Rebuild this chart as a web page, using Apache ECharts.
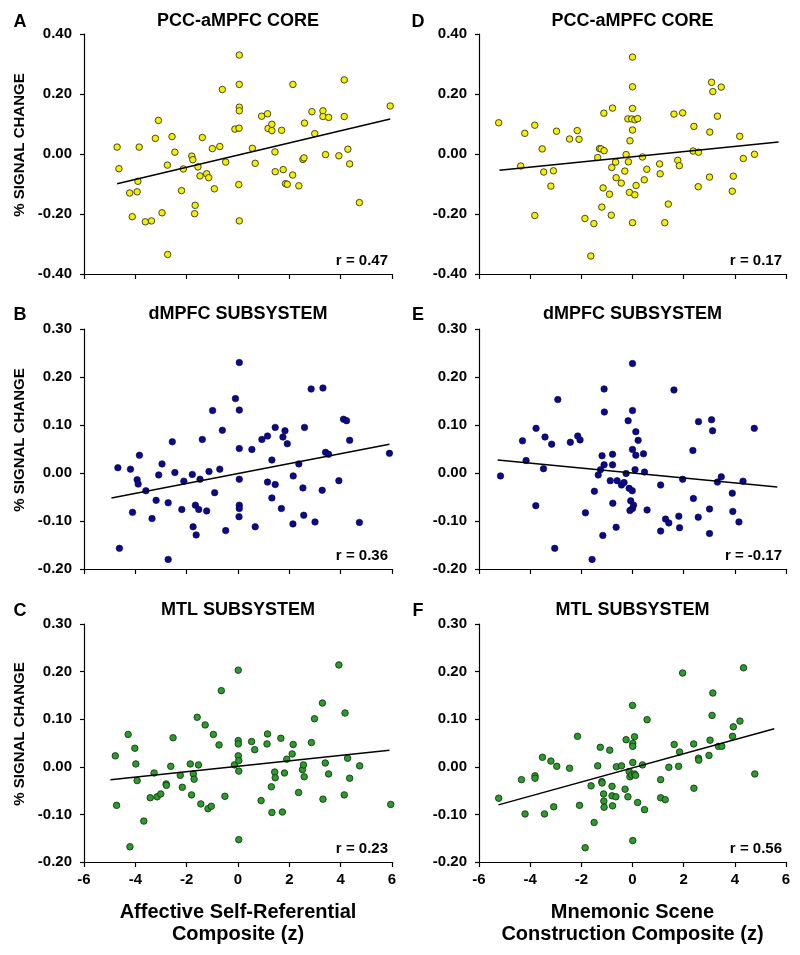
<!DOCTYPE html>
<html>
<head>
<meta charset="utf-8">
<script src="https://cdn.jsdelivr.net/npm/echarts@6/dist/echarts.min.js"></script>
<style>html,body{margin:0;padding:0;background:#fff}#c{width:800px;height:955px}</style>
</head>
<body>
<div id="c"></div>
<script>
// ---- Data ----
const panelLetters = ['A','B','C','D','E','F'];
const panelTitles = ['PCC-aMPFC CORE','dMPFC SUBSYSTEM','MTL SUBSYSTEM','PCC-aMPFC CORE','dMPFC SUBSYSTEM','MTL SUBSYSTEM'];
const rLabels = ['r = 0.47','r = 0.36','r = 0.23','r = 0.17','r = -0.17','r = 0.56'];
const xTicks = [-6,-4,-2,0,2,4,6];
const yTicksCore = [-0.40,-0.20,0.00,0.20,0.40];
const yTicksSub = [-0.20,-0.10,0.00,0.10,0.20,0.30];
const yAxisTitle = '% SIGNAL CHANGE';
const xAxisTitleLeft = ['Affective Self-Referential','Composite (z)'];
const xAxisTitleRight = ['Mnemonic Scene','Construction Composite (z)'];

const ptsA = [[-4.71,0.023],[-4.64,-0.049],[-4.22,-0.13],[-4.12,-0.209],[-3.93,-0.126],[-3.90,-0.091],[-3.85,0.023],[-3.61,-0.226],[-3.37,-0.223],[-3.22,0.052],[-3.10,0.112],[-2.96,-0.196],[-2.75,-0.037],[-2.74,-0.335],[-2.57,0.058],[-2.46,0.006],[-2.20,-0.122],[-2.13,-0.050],[-1.80,-0.007],[-1.76,-0.019],[-1.67,-0.171],[-1.69,-0.199],[-1.56,-0.043],[-1.48,-0.073],[-1.39,0.055],[-1.22,-0.066],[-1.14,-0.079],[-1.00,0.018],[-0.92,-0.116],[-0.71,0.025],[-0.61,0.215],[-0.48,-0.027],[-0.12,0.083],[0.04,0.086],[0.03,-0.102],[0.05,-0.223],[0.05,0.330],[0.05,0.232],[0.05,0.156],[0.05,0.144],[0.56,0.019],[0.67,-0.031],[0.92,0.126],[1.15,0.134],[1.17,0.085],[1.32,0.099],[1.32,0.078],[1.44,0.007],[1.45,-0.059],[1.70,0.079],[1.76,-0.052],[1.85,-0.099],[1.92,-0.101],[2.14,0.232],[2.13,-0.070],[2.37,-0.106],[2.53,-0.018],[2.57,-0.013],[2.59,0.103],[2.88,0.141],[2.99,0.068],[3.31,0.144],[3.31,0.125],[3.41,-0.002],[3.53,0.122],[3.93,-0.006],[4.14,0.247],[4.14,0.125],[4.28,0.016],[4.35,-0.033],[4.73,-0.162],[5.93,0.160]];
const ptsB = [[-4.68,0.011],[-4.62,-0.157],[-4.19,0.008],[-4.11,-0.082],[-3.93,-0.014],[-3.89,-0.023],[-3.84,0.037],[-3.59,-0.037],[-3.35,-0.095],[-3.19,-0.057],[-3.09,-0.004],[-2.96,0.019],[-2.72,-0.062],[-2.72,-0.180],[-2.56,0.065],[-2.46,0.001],[-2.19,-0.076],[-2.11,-0.017],[-1.78,-0.003],[-1.75,-0.112],[-1.66,-0.067],[-1.63,-0.129],[-1.53,-0.076],[-1.48,-0.013],[-1.39,0.070],[-1.22,-0.079],[-1.13,0.003],[-0.99,0.130],[-0.91,-0.041],[-0.71,0.008],[-0.61,0.089],[-0.48,-0.120],[-0.10,0.155],[0.04,-0.091],[0.05,0.230],[0.05,0.131],[0.05,0.051],[0.05,-0.013],[0.05,-0.067],[0.05,-0.074],[0.54,0.049],[0.67,-0.112],[0.93,0.070],[1.15,0.077],[1.15,-0.019],[1.32,0.027],[1.32,-0.052],[1.45,0.095],[1.45,-0.024],[1.69,-0.074],[1.75,0.075],[1.83,0.088],[1.92,0.061],[2.14,-0.106],[2.15,-0.006],[2.37,0.019],[2.53,-0.031],[2.56,-0.088],[2.59,0.095],[2.85,0.175],[3.00,-0.102],[3.28,-0.036],[3.31,0.177],[3.41,0.043],[3.53,0.039],[3.93,-0.016],[4.11,0.112],[4.23,0.109],[4.35,0.068],[4.73,-0.103],[5.90,0.041]];
const ptsC = [[-4.78,0.023],[-4.73,-0.081],[-4.28,0.068],[-4.21,-0.168],[-4.02,0.039],[-3.98,0.006],[-3.93,-0.029],[-3.67,-0.114],[-3.42,-0.065],[-3.27,-0.013],[-3.15,-0.063],[-3.01,-0.057],[-2.80,-0.036],[-2.79,-0.039],[-2.62,0.001],[-2.53,0.061],[-2.25,-0.018],[-2.17,-0.043],[-1.86,0.006],[-1.81,-0.059],[-1.74,-0.015],[-1.71,-0.026],[-1.59,0.104],[-1.54,0.004],[-1.45,-0.078],[-1.28,0.088],[-1.17,-0.088],[-1.04,-0.083],[-0.96,0.068],[-0.74,0.046],[-0.65,0.160],[-0.51,-0.062],[-0.14,0.004],[0.01,0.203],[0.01,0.055],[0.01,0.048],[0.01,0.023],[0.03,0.013],[0.03,-0.009],[0.03,-0.153],[0.53,0.053],[0.65,0.036],[0.90,-0.071],[1.13,0.048],[1.15,0.069],[1.30,-0.042],[1.32,-0.096],[1.43,-0.011],[1.45,-0.023],[1.67,0.060],[1.73,-0.095],[1.81,-0.013],[1.90,0.016],[2.11,0.027],[2.15,0.047],[2.36,-0.054],[2.51,-0.006],[2.55,0.004],[2.58,-0.021],[2.86,0.051],[2.98,0.101],[3.29,0.134],[3.31,-0.068],[3.40,0.008],[3.53,-0.015],[3.93,0.214],[4.14,-0.059],[4.17,0.113],[4.27,0.018],[4.35,-0.024],[4.74,0.002],[5.95,-0.079]];
const ptsD = [[-5.23,0.104],[-4.37,-0.040],[-4.21,0.069],[-3.82,0.096],[-3.82,-0.205],[-3.53,0.017],[-3.47,-0.060],[-3.19,-0.107],[-3.09,-0.056],[-2.97,0.076],[-2.46,0.050],[-2.16,0.078],[-2.09,0.049],[-1.86,-0.215],[-1.63,-0.340],[-1.51,-0.232],[-1.36,-0.012],[-1.29,0.018],[-1.23,0.017],[-1.20,-0.177],[-1.15,-0.113],[-1.11,0.011],[-1.12,0.136],[-0.90,-0.134],[-0.83,-0.204],[-0.81,-0.045],[-0.78,0.153],[-0.66,-0.027],[-0.64,-0.079],[-0.44,-0.097],[-0.30,-0.057],[-0.25,-0.002],[-0.18,0.117],[-0.16,-0.026],[-0.12,-0.128],[-0.10,0.044],[-0.03,0.117],[0.00,0.323],[0.00,0.224],[0.00,0.152],[0.00,0.080],[0.00,-0.229],[0.09,0.114],[0.09,-0.136],[0.14,-0.105],[0.20,0.118],[0.39,-0.010],[0.46,-0.086],[0.56,-0.051],[1.06,-0.033],[1.08,-0.066],[1.26,-0.229],[1.40,-0.167],[1.62,0.133],[1.77,-0.021],[1.83,-0.039],[1.96,0.137],[2.37,0.010],[2.40,0.092],[2.57,-0.109],[2.58,0.006],[3.01,-0.077],[3.02,0.073],[3.09,0.239],[3.14,0.208],[3.32,0.126],[3.47,0.223],[3.90,-0.124],[3.94,-0.074],[4.19,0.059],[4.33,-0.015],[4.77,-0.001]];
const ptsE = [[-5.16,-0.006],[-4.30,0.067],[-4.16,0.026],[-3.78,-0.068],[-3.77,0.093],[-3.48,0.009],[-3.42,0.075],[-3.16,0.060],[-3.04,-0.157],[-2.92,0.153],[-2.43,0.064],[-2.14,0.077],[-2.05,0.069],[-1.84,-0.083],[-1.58,-0.180],[-1.49,-0.038],[-1.34,-0.004],[-1.25,0.007],[-1.19,0.036],[-1.16,-0.130],[-1.11,0.175],[-1.10,0.127],[-1.11,0.017],[-0.87,-0.016],[-0.78,0.039],[-0.78,0.017],[-0.77,-0.063],[-0.64,-0.113],[-0.60,-0.016],[-0.43,-0.025],[-0.33,-0.020],[-0.25,-0.001],[-0.17,0.109],[-0.13,-0.032],[-0.10,-0.078],[-0.07,-0.058],[-0.01,-0.037],[0.00,0.228],[0.00,0.130],[0.00,0.049],[0.00,-0.074],[0.04,-0.067],[0.10,0.007],[0.13,0.086],[0.13,0.037],[0.22,0.068],[0.43,0.040],[0.47,0.002],[0.57,-0.077],[1.10,-0.025],[1.10,-0.121],[1.29,-0.096],[1.42,-0.104],[1.62,0.173],[1.81,-0.090],[1.84,-0.114],[1.96,-0.013],[2.36,0.047],[2.38,-0.053],[2.57,-0.092],[2.58,0.107],[3.01,-0.075],[3.01,-0.126],[3.09,0.111],[3.13,0.088],[3.32,-0.019],[3.47,-0.008],[3.90,-0.042],[3.92,-0.080],[4.16,-0.102],[4.32,-0.017],[4.76,0.093]];
const ptsF = [[-5.23,-0.066],[-4.34,-0.027],[-4.20,-0.099],[-3.81,-0.019],[-3.81,-0.024],[-3.52,0.020],[-3.44,-0.099],[-3.19,0.012],[-3.08,-0.084],[-2.96,0.001],[-2.46,-0.003],[-2.15,0.064],[-2.07,-0.081],[-1.85,-0.170],[-1.62,-0.040],[-1.50,-0.117],[-1.36,0.002],[-1.26,0.041],[-1.20,-0.031],[-1.19,-0.034],[-1.13,-0.057],[-1.12,-0.072],[-1.11,-0.085],[-0.89,0.035],[-0.80,-0.041],[-0.80,-0.061],[-0.78,-0.082],[-0.65,-0.063],[-0.63,0.000],[-0.43,0.002],[-0.29,-0.047],[-0.25,0.057],[-0.18,-0.063],[-0.13,-0.010],[-0.10,-0.021],[-0.03,-0.017],[0.00,0.129],[0.01,0.049],[0.01,0.043],[0.01,0.009],[0.01,-0.155],[0.08,0.063],[0.08,-0.015],[0.12,-0.018],[0.20,-0.075],[0.39,0.004],[0.47,-0.090],[0.57,0.099],[1.10,-0.027],[1.10,-0.065],[1.28,-0.069],[1.42,-0.001],[1.63,0.047],[1.80,0.001],[1.84,0.031],[1.96,0.197],[2.39,0.048],[2.40,-0.045],[2.58,0.018],[2.59,0.014],[2.99,0.024],[3.03,0.056],[3.11,0.108],[3.14,0.155],[3.36,0.043],[3.49,0.043],[3.91,0.064],[3.94,0.084],[4.20,0.096],[4.34,0.208],[4.78,-0.015]];

// regression lines (end points)
const lineA = [[-4.71,-0.099],[5.93,0.117]];
const lineB = [[-4.93,-0.052],[5.90,0.060]];
const lineC = [[-4.97,-0.027],[5.90,0.035]];
const lineD = [[-5.20,-0.054],[5.71,0.040]];
const lineE = [[-5.27,0.027],[5.66,-0.029]];
const lineF = [[-5.24,-0.080],[5.54,0.080]];

const allPts = [ptsA, ptsB, ptsC, ptsD, ptsE, ptsF];
const allLines = [lineA, lineB, lineC, lineD, lineE, lineF];

// ---- Layout / style ----
const FONT = '"Liberation Sans", Arial, Helvetica, sans-serif';
const grids = [
  {left:84, top:34, width:308, height:240},
  {left:84, top:329, width:308, height:240},
  {left:84, top:624, width:308, height:238},
  {left:479, top:34, width:307, height:240},
  {left:479, top:329, width:307, height:240},
  {left:479, top:624, width:307, height:238}
];
const markerStyles = [
  {color:'#f5ef00', borderColor:'#333318', borderWidth:0.9, opacity:1},
  {color:'#0a0a8a', borderColor:'#040440', borderWidth:0.6, opacity:1},
  {color:'#2c9a2c', borderColor:'#143a14', borderWidth:0.9, opacity:1}
];
const titleY = [21, 314, 610];

const xAxes = [], yAxes = [], series = [], graphics = [];
for (let i = 0; i < 6; i++) {
  const row = i % 3;
  const isCore = row === 0;
  const yt = isCore ? yTicksCore : yTicksSub;
  const g = grids[i];
  xAxes.push({
    gridIndex:i, type:'value', min:xTicks[0], max:xTicks[xTicks.length-1], interval:2,
    axisLine:{onZero:false, lineStyle:{color:'#000', width:1.2}},
    axisTick:{show:true, length:5, lineStyle:{color:'#000', width:1.2}},
    splitLine:{show:false},
    axisLabel:{show: row === 2, margin:10, color:'#000', fontFamily:FONT, fontWeight:'bold', fontSize:15,
      formatter:v => String(v)}
  });
  yAxes.push({
    gridIndex:i, type:'value', min:yt[0], max:yt[yt.length-1], interval: isCore ? 0.2 : 0.1,
    axisLine:{show:true, onZero:false, lineStyle:{color:'#000', width:1.2}},
    axisTick:{show:true, length:4, lineStyle:{color:'#000', width:1.2}},
    splitLine:{show:false},
    axisLabel:{margin:12, color:'#000', fontFamily:FONT, fontWeight:'bold', fontSize:15,
      formatter:v => (Math.abs(v) < 1e-9 ? 0 : v).toFixed(2)}
  });
  series.push({
    type:'scatter', xAxisIndex:i, yAxisIndex:i, data:allPts[i], symbol:'circle', symbolSize:6.5,
    itemStyle:markerStyles[row], emphasis:{disabled:true}, silent:true, animation:false
  });
  series.push({
    type:'line', xAxisIndex:i, yAxisIndex:i, data:allLines[i], symbol:'none',
    lineStyle:{color:'#000', width:1.5}, silent:true, animation:false, z:3
  });
  const cx = g.left + g.width/2;
  graphics.push({type:'text', x:cx, y:titleY[row], style:{text:panelTitles[i], font:'bold 18px '+FONT, fill:'#000', textAlign:'center', textVerticalAlign:'middle'}});
  graphics.push({type:'text', x:(i<3?20:418), y:titleY[row]+1, style:{text:panelLetters[i], font:'bold 18px '+FONT, fill:'#000', textAlign:'center', textVerticalAlign:'middle'}});
  graphics.push({type:'text', x:g.left + g.width - 4, y:g.top + g.height - 13, style:{text:rLabels[i], font:'bold 15px '+FONT, fill:'#000', textAlign:'right', textVerticalAlign:'middle'}});
  if (i < 3) {
    graphics.push({type:'text', x:20, y:g.top + g.height/2 - 9, rotation:Math.PI/2,
      style:{text:yAxisTitle, font:'bold 15px '+FONT, fill:'#000', textAlign:'center', textVerticalAlign:'middle'}});
  }
}
// x-axis titles
[[xAxisTitleLeft, grids[2]], [xAxisTitleRight, grids[5]]].forEach(([lines, g]) => {
  const cx = g.left + g.width/2;
  lines.forEach((t, k) => {
    graphics.push({type:'text', x:cx, y:912 + k*22, style:{text:t, font:'bold 20px '+FONT, fill:'#000', textAlign:'center', textVerticalAlign:'middle'}});
  });
});

const chart = echarts.init(document.getElementById('c'), null, {renderer:'canvas'});
chart.setOption({
  backgroundColor:'#fff',
  animation:false,
  grid:grids.map(g => Object.assign({containLabel:false}, g)),
  xAxis:xAxes,
  yAxis:yAxes,
  series:series,
  graphic:graphics
});
</script>
</body>
</html>
